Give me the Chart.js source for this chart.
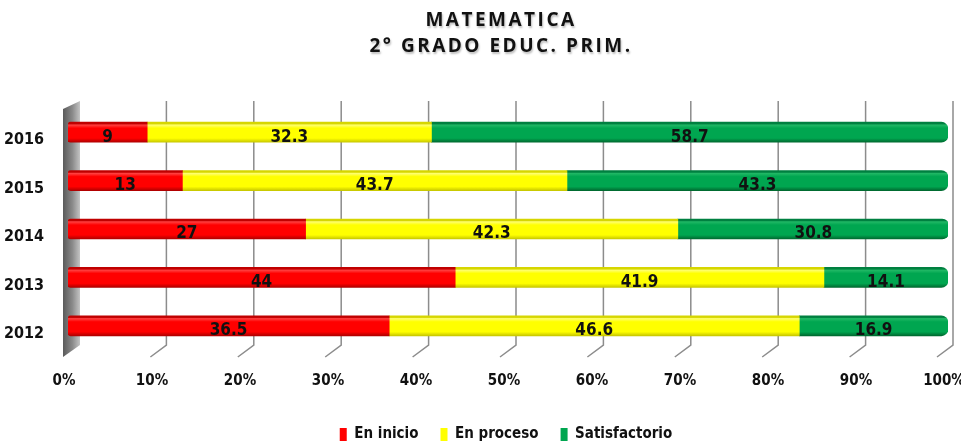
<!DOCTYPE html>
<html>
<head>
<meta charset="utf-8">
<script src="https://cdn.jsdelivr.net/npm/chart.js@4"></script>
<style>
html,body{margin:0;padding:0;background:#fff;}
#wrap{width:961px;height:441px;position:relative;}
</style>
</head>
<body>
<div id="wrap"><canvas id="c" width="961" height="441"></canvas></div>
<script>
const titleLines = ['MATEMATICA', '2° GRADO EDUC. PRIM.'];
const categories = ['2016', '2015', '2014', '2013', '2012'];
const enInicio = [9, 13, 27, 44, 36.5];
const enProceso = [32.3, 43.7, 42.3, 41.9, 46.6];
const satisfactorio = [58.7, 43.3, 30.8, 14.1, 16.9];
const seriesNames = ['En inicio', 'En proceso', 'Satisfactorio'];
const xTicks = [0, 10, 20, 30, 40, 50, 60, 70, 80, 90, 100];

const FONT = "'DejaVu Sans Condensed', 'Liberation Sans Narrow', 'Liberation Sans', sans-serif";

const palettes = [
  {edge:'#c00000', light:'#ff4040', base:'#ff0000', dark:'#b00000', legend:'#ff0000'},
  {edge:'#d6d600', light:'#ffff70', base:'#ffff00', dark:'#c8c800', legend:'#ffff00'},
  {edge:'#008040', light:'#20b865', base:'#00a650', dark:'#006a30', legend:'#00a650'}
];

function gradFor(idx){
  return function(ctx){
    const chart = ctx.chart;
    const p = palettes[idx];
    if (!chart.chartArea || ctx.type !== 'data') return p.base;
    const ys = chart.scales.y;
    const yc = ys.getPixelForValue(ctx.dataIndex);
    const g = chart.ctx.createLinearGradient(0, yc - 10, 0, yc + 10);
    g.addColorStop(0, p.edge);
    g.addColorStop(0.08, p.edge);
    g.addColorStop(0.14, p.light);
    g.addColorStop(0.3, p.base);
    g.addColorStop(0.8, p.base);
    g.addColorStop(1, p.dark);
    return g;
  };
}

const backPlane = {
  id: 'backPlane',
  beforeDatasetsDraw(chart){
    const {ctx, chartArea} = chart;
    const xs = chart.scales.x;
    const top = chartArea.top - 7;
    const bot = chartArea.bottom - 5;
    const floor = chartArea.bottom + 7;
    ctx.save();
    const x0 = xs.getPixelForValue(0);
    const wg = ctx.createLinearGradient(x0 - 5, 0, x0 + 12, 0);
    wg.addColorStop(0, '#5a5a5a');
    wg.addColorStop(0.55, '#8a8a8a');
    wg.addColorStop(1, '#c4c4c4');
    ctx.fillStyle = wg;
    ctx.beginPath();
    ctx.moveTo(x0 - 5, top + 8);
    ctx.lineTo(x0 + 12, top);
    ctx.lineTo(x0 + 12, bot);
    ctx.lineTo(x0 - 5, floor);
    ctx.closePath();
    ctx.fill();
    ctx.strokeStyle = '#8c8c8c';
    ctx.lineWidth = 1.5;
    xTicks.forEach(v => {
      if (v === 0) return;
      const xf = xs.getPixelForValue(v);
      const off = 11 - 6 * v / 100;
      const xb = xf + off;
      ctx.beginPath();
      ctx.moveTo(xb, top);
      ctx.lineTo(xb, bot);
      ctx.lineTo(xb - 16, floor);
      ctx.stroke();
    });
    ctx.restore();
  }
};

const valueLabels = {
  id: 'valueLabels',
  afterDatasetsDraw(chart){
    const {ctx} = chart;
    ctx.save();
    ctx.font = "bold 17px " + FONT;
    ctx.fillStyle = '#111';
    ctx.textAlign = 'center';
    ctx.textBaseline = 'middle';
    chart.data.datasets.forEach((ds, di) => {
      const meta = chart.getDatasetMeta(di);
      meta.data.forEach((el, i) => {
        const cx = (el.x + el.base) / 2;
        ctx.fillText(String(ds.data[i]), cx, el.y + 5);
      });
    });
    ctx.restore();
  }
};

const titlePlugin = {
  id: 'titleDraw',
  afterDraw(chart){
    const {ctx} = chart;
    ctx.save();
    ctx.font = "bold 19px 'Open Sans', sans-serif";
    ctx.letterSpacing = '2.5px';
    ctx.textAlign = 'center';
    ctx.textBaseline = 'middle';
    ctx.shadowColor = 'rgba(0,0,0,0.25)';
    ctx.shadowOffsetX = 1;
    ctx.shadowOffsetY = 2;
    ctx.shadowBlur = 2;
    ctx.fillStyle = '#111';
    ctx.fillText(titleLines[0], 501, 21);
    ctx.fillText(titleLines[1], 501, 47);
    ctx.restore();
  }
};

const legendShift = {
  id: 'legendShift',
  afterLayout(chart){
    if (chart.legend) {
      chart.legend.left += 32;
      chart.legend.right += 32;
    }
  }
};

const datasets = [enInicio, enProceso, satisfactorio].map((d, i) => ({
  label: seriesNames[i],
  data: d,
  backgroundColor: gradFor(i),
  borderWidth: 0,
  borderSkipped: false,
  borderRadius: i === 2 ? {topLeft:0, bottomLeft:0, topRight:7, bottomRight:7}
               : (i === 0 ? {topLeft:3, bottomLeft:3, topRight:0, bottomRight:0} : 0),
  barThickness: 20
}));

const chart = new Chart(document.getElementById('c'), {
  type: 'bar',
  data: { labels: categories, datasets: datasets },
  options: {
    indexAxis: 'y',
    responsive: false,
    animation: false,
    devicePixelRatio: 1,
    layout: { padding: { top: 108, right: 13, left: 0, bottom: -11 } },
    scales: {
      x: {
        stacked: true,
        min: 0, max: 100,
        afterBuildTicks(scale){ scale.ticks = xTicks.map(v => ({value: v})); },
        afterFit(scale){ scale.height = 55; scale.paddingLeft = 0; scale.paddingRight = 0; },
        grid: { display: false, drawTicks: false },
        border: { display: false },
        ticks: {
          padding: 22,
          labelOffset: -4,
          color: '#111',
          font: { family: FONT, weight: 'bold', size: 15 },
          callback: v => v + '%'
        }
      },
      y: {
        stacked: true,
        afterFit(scale){ scale.width = 68; },
        grid: { display: false, drawTicks: false },
        border: { display: false },
        ticks: {
          padding: 24,
          labelOffset: 8,
          color: '#111',
          font: { family: FONT, weight: 'bold', size: 16 }
        }
      }
    },
    plugins: {
      legend: {
        position: 'bottom',
        labels: {
          boxWidth: 7,
          boxHeight: 13,
          padding: 22,
          color: '#111',
          font: { family: FONT, weight: 'bold', size: 15 },
          generateLabels(chart){
            return chart.data.datasets.map((ds, i) => ({
              text: ds.label,
              fillStyle: palettes[i].legend,
              strokeStyle: palettes[i].legend,
              lineWidth: 0,
              datasetIndex: i,
              fontColor: '#111'
            }));
          }
        }
      },
      title: { display: false },
      tooltip: { enabled: false }
    }
  },
  plugins: [backPlane, valueLabels, titlePlugin, legendShift]
});
</script>
</body>
</html>
